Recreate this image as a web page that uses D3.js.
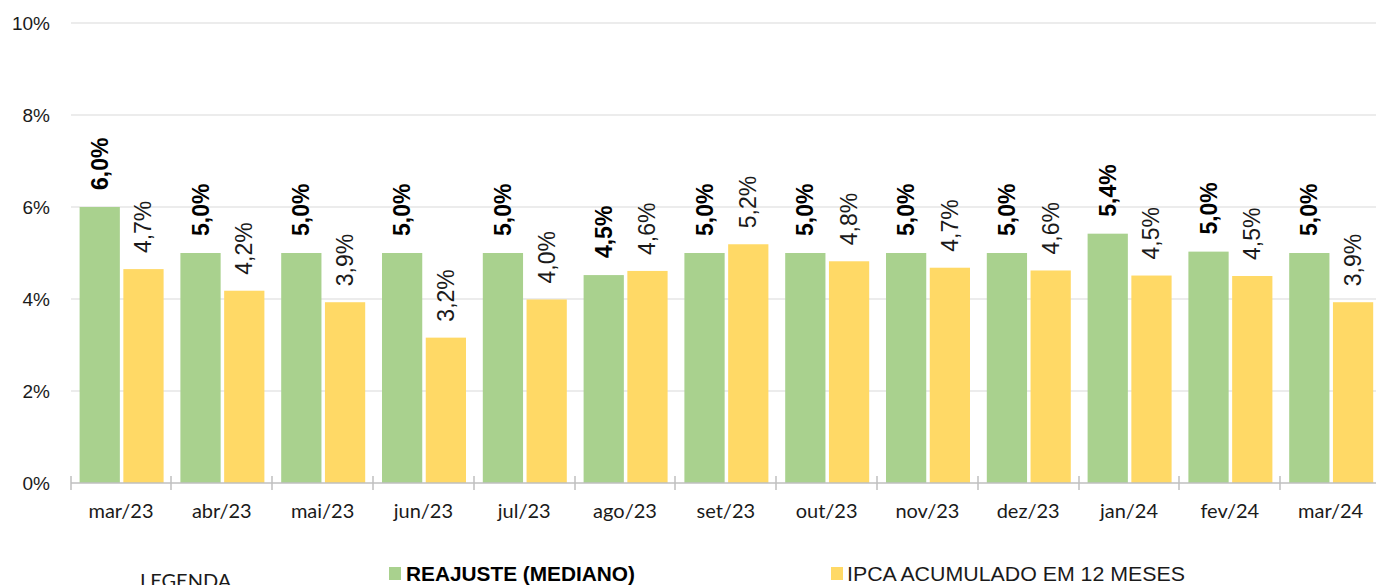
<!DOCTYPE html>
<html><head><meta charset="utf-8">
<script src="https://cdn.jsdelivr.net/npm/d3@7"></script>
<style>
html,body{margin:0;padding:0;background:#fff;overflow:hidden}
svg{display:block}
</style></head>
<body>
<svg id="chart" width="1376" height="585"></svg>
<script>
const categories = ["mar/23","abr/23","mai/23","jun/23","jul/23","ago/23","set/23","out/23","nov/23","dez/23","jan/24","fev/24","mar/24"];
const reajuste = [6.0,5.0,5.0,5.0,5.0,4.52,5.0,5.0,5.0,5.0,5.42,5.03,5.0];
const reajusteLabels = ["6,0%","5,0%","5,0%","5,0%","5,0%","4,5%","5,0%","5,0%","5,0%","5,0%","5,4%","5,0%","5,0%"];
const ipca = [4.65,4.18,3.93,3.16,3.99,4.61,5.19,4.82,4.68,4.62,4.51,4.50,3.93];
const ipcaLabels = ["4,7%","4,2%","3,9%","3,2%","4,0%","4,6%","5,2%","4,8%","4,7%","4,6%","4,5%","4,5%","3,9%"];
const yTicks = [0,2,4,6,8,10];
const seriesNames = ["REAJUSTE (MEDIANO)","IPCA ACUMULADO EM 12 MESES"];

(function(){
const green = "#a9d18e", yellow = "#ffd966";
const svg = d3.select("#chart");
const mLeft = 70.6, mRight = 1381, mTop = 23, mBottom = 483;

const x = d3.scaleBand().domain(categories).range([mLeft, mRight]).padding(0);
const x1 = d3.scaleBand().domain(["r","i"]).range([9, 93]).paddingInner(0.08);
const y = d3.scaleLinear().domain([0,10]).range([mBottom, mTop]);

svg.append("g").selectAll("line").data(yTicks.filter(d=>d>0)).join("line")
  .attr("x1", 71).attr("x2", 1376)
  .attr("y1", d=>y(d)).attr("y2", d=>y(d))
  .attr("stroke", "#d9d9d9").attr("stroke-width", 1);

svg.append("g").selectAll("text").data(yTicks).join("text")
  .attr("x", 50).attr("y", d=>y(d)).attr("dy","0.35em")
  .attr("text-anchor","end")
  .attr("font-family","Liberation Sans, Arial, sans-serif")
  .attr("font-size", 19).attr("fill","#1a1a1a")
  .text(d=>d+"%");

const g = svg.append("g");
categories.forEach((c,i)=>{
  const bx = x(c);
  g.append("rect").attr("x", bx + x1("r")).attr("y", y(reajuste[i]))
    .attr("width", x1.bandwidth()).attr("height", y(0)-y(reajuste[i])).attr("fill", green);
  g.append("rect").attr("x", bx + x1("i")).attr("y", y(ipca[i]))
    .attr("width", x1.bandwidth()).attr("height", y(0)-y(ipca[i])).attr("fill", yellow);
  const cxr = bx + x1("r") + x1.bandwidth()/2;
  const cxi = bx + x1("i") + x1.bandwidth()/2;
  g.append("text")
    .attr("transform", `translate(${cxr + 8},${y(reajuste[i]) - 17}) rotate(-90)`)
    .attr("font-family","Liberation Sans, Arial, sans-serif")
    .attr("font-weight","bold").attr("font-size", 23).attr("fill","#000")
    .text(reajusteLabels[i]);
  g.append("text")
    .attr("transform", `translate(${cxi + 8},${y(ipca[i]) - 16}) rotate(-90)`)
    .attr("font-family","Liberation Sans, Arial, sans-serif")
    .attr("font-size", 23).attr("fill","#1a1a1a")
    .text(ipcaLabels[i]);
});

svg.append("line").attr("x1", 71).attr("x2", 1376).attr("y1", mBottom).attr("y2", mBottom)
  .attr("stroke","#bfbfbf").attr("stroke-width",1.5);
svg.append("g").selectAll("line").data(categories).join("line")
  .attr("x1", d=>Math.round(x(d))).attr("x2", d=>Math.round(x(d)))
  .attr("y1", mBottom-7).attr("y2", mBottom+7)
  .attr("stroke","#bfbfbf").attr("stroke-width",1.5);
svg.append("g").selectAll("text").data(categories).join("text")
  .attr("x", d=>x(d)+x.bandwidth()/2).attr("y", 518)
  .attr("text-anchor","middle")
  .attr("font-family","Lato, sans-serif").attr("font-size", 20).attr("fill","#1a1a1a")
  .text(d=>d);

svg.append("text").attr("x", 140).attr("y", 588)
  .attr("font-family","Lato, sans-serif").attr("font-size", 20).attr("fill","#1a1a1a")
  .text("LEGENDA");
svg.append("rect").attr("x", 389).attr("y", 567).attr("width", 12).attr("height", 13).attr("fill", green);
svg.append("text").attr("x", 406).attr("y", 581)
  .attr("font-family","Liberation Sans Narrow, Liberation Sans, Arial, sans-serif")
  .attr("font-weight","bold").attr("font-size", 20).attr("fill","#000")
  .attr("textLength", 229).attr("lengthAdjust","spacingAndGlyphs")
  .text(seriesNames[0]);
svg.append("rect").attr("x", 831).attr("y", 567).attr("width", 12).attr("height", 13).attr("fill", yellow);
svg.append("text").attr("x", 847).attr("y", 581)
  .attr("font-family","Liberation Sans Narrow, Liberation Sans, Arial, sans-serif")
  .attr("font-size", 20).attr("fill","#1a1a1a")
  .attr("textLength", 338).attr("lengthAdjust","spacingAndGlyphs")
  .text(seriesNames[1]);
})();
</script>
</body></html>
